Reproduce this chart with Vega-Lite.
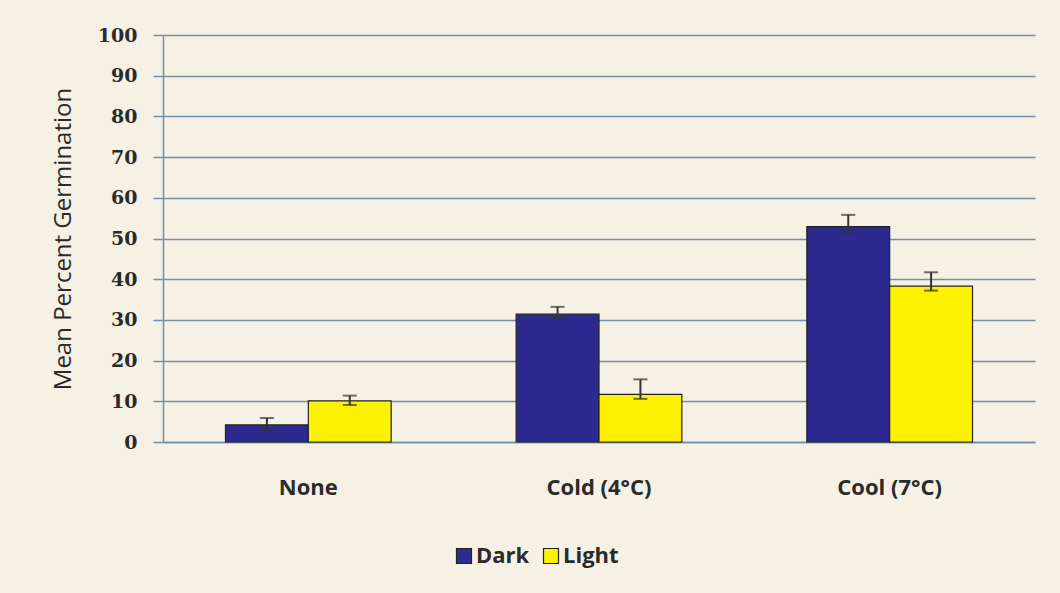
{
  "$schema": "https://vega.github.io/schema/vega-lite/v6.json",
  "autosize": {"type": "none"},
  "width": 872,
  "height": 407,
  "padding": {"left": 163, "top": 35, "right": 25, "bottom": 151},
  "background": "#f5f1e4",
  "config": {
    "view": {"stroke": null},
    "font": "Open Sans"
  },
  "data": {
    "values": [
      {"treatment": "None", "light": "Dark", "mean": 4.2, "lo": 2.9, "hi": 5.9},
      {"treatment": "None", "light": "Light", "mean": 10.1, "lo": 9.1, "hi": 11.4},
      {"treatment": "Cold (4°C)", "light": "Dark", "mean": 31.4, "lo": 30.5, "hi": 33.2},
      {"treatment": "Cold (4°C)", "light": "Light", "mean": 11.7, "lo": 10.6, "hi": 15.4},
      {"treatment": "Cool (7°C)", "light": "Dark", "mean": 52.9, "lo": 51.4, "hi": 55.8},
      {"treatment": "Cool (7°C)", "light": "Light", "mean": 38.3, "lo": 37.2, "hi": 41.7}
    ]
  },
  "encoding": {
    "x": {
      "field": "treatment", "type": "nominal",
      "sort": ["None", "Cold (4°C)", "Cool (7°C)"],
      "scale": {"paddingInner": 0.43, "paddingOuter": 0.215},
      "axis": {
        "title": null, "labelAngle": 0, "labelFont": "Open Sans", "labelFontSize": 22,
        "labelFontWeight": "bold", "labelColor": "#2a2a2a", "labelPadding": 35, "ticks": false,
        "domainColor": "#7590a4", "domainWidth": 1.5
      }
    },
    "xOffset": {"field": "light", "type": "nominal", "sort": ["Dark", "Light"]}
  },
  "layer": [
    {
      "mark": {"type": "bar", "stroke": "#222222", "strokeWidth": 1.2},
      "encoding": {
        "y": {
          "field": "mean", "type": "quantitative",
          "scale": {"domain": [0, 100]},
          "axis": {
            "title": "Mean Percent Germination", "titleFont": "Open Sans", "titleFontSize": 24,
            "titleFontWeight": "normal", "titleColor": "#2a2a2a", "titlePadding": 22,
            "values": [0, 10, 20, 30, 40, 50, 60, 70, 80, 90, 100],
            "labelFont": "DejaVu Serif", "labelFontSize": 19, "labelFontWeight": "bold",
            "labelColor": "#2a2a2a", "labelPadding": 16, "tickSize": 10,
            "tickColor": "#7590a4", "tickWidth": 1.5,
            "domainColor": "#7590a4", "domainWidth": 1.5,
            "gridColor": "#7590a4", "gridWidth": 1.5
          }
        },
        "color": {
          "field": "light", "type": "nominal",
          "scale": {"domain": ["Dark", "Light"], "range": ["#2d2a8f", "#fff200"]},
          "legend": {
            "title": null, "orient": "none", "direction": "horizontal",
            "legendX": 290, "legendY": 510,
            "symbolType": "square", "symbolSize": 225, "symbolStrokeColor": "#222222",
            "symbolStrokeWidth": 1.2, "symbolOpacity": 1,
            "labelFont": "Open Sans", "labelFontSize": 22, "labelFontWeight": "bold",
            "labelColor": "#2a2a2a", "columnPadding": 10, "labelOffset": 1
          }
        }
      }
    },
    {
      "mark": {"type": "rule", "color": "#333333", "strokeWidth": 2},
      "encoding": {
        "y": {"field": "lo", "type": "quantitative"},
        "y2": {"field": "hi"}
      }
    },
    {
      "mark": {"type": "tick", "color": "#333333", "size": 14, "thickness": 2},
      "encoding": {"y": {"field": "hi", "type": "quantitative"}}
    },
    {
      "mark": {"type": "tick", "color": "#333333", "size": 14, "thickness": 2},
      "encoding": {"y": {"field": "lo", "type": "quantitative"}}
    }
  ]
}
